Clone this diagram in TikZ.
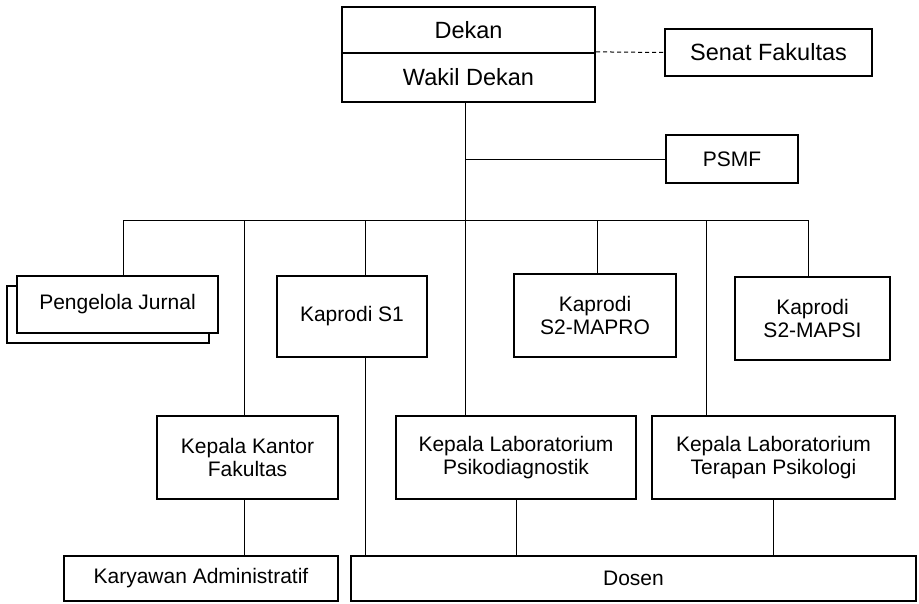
\documentclass[tikz,border=0pt]{standalone}
\usepackage{fontspec}
\setmainfont{Liberation Sans}
\tikzset{
	unitbox/.style={draw, line width=2.3pt, fill=white, align=center, inner sep=0pt, font=\fontsize{21}{23.5}\selectfont},
	bigbox/.style={unitbox, font=\fontsize{23.5}{26}\selectfont},
	link/.style={line width=1pt}
}
\begin{document}
\begin{tikzpicture}[x=1pt, y=-1pt]
	\useasboundingbox (0,0) rectangle (919,603);
	\node[bigbox, minimum width=253pt, minimum height=46pt] (dekan) at (468.5,30) {Dekan};
	\node[bigbox, minimum width=253pt, minimum height=49pt] (wakil) at (468.5,77.5) {Wakil Dekan};
	\node[bigbox, minimum width=207pt, minimum height=47pt] (senat) at (768.5,52.5) {Senat Fakultas};
	\node[unitbox, minimum width=132pt, minimum height=48pt] (psmf) at (732,159) {PSMF};
	\node[unitbox, minimum width=202pt, minimum height=57pt] (jurnalbg) at (108,314.5) {};
	\node[unitbox, minimum width=201pt, minimum height=57pt] (jurnal) at (117.5,304.5) {Pengelola Jurnal};
	\node[unitbox, minimum width=150pt, minimum height=81pt] (sone) at (352,316.5) {Kaprodi S1};
	\node[unitbox, minimum width=162pt, minimum height=83pt] (mapro) at (595,315.5) {Kaprodi\\S2-MAPRO};
	\node[unitbox, minimum width=155pt, minimum height=83pt] (mapsi) at (812.5,318.5) {Kaprodi\\S2-MAPSI};
	\node[unitbox, minimum width=181pt, minimum height=83pt] (kantor) at (247.5,457.5) {Kepala Kantor\\Fakultas};
	\node[unitbox, minimum width=240pt, minimum height=83pt] (psiko) at (516,457.5) {Kepala Laboratorium\\Psikodiagnostik};
	\node[unitbox, minimum width=243pt, minimum height=83pt] (terapan) at (773.5,457.5) {Kepala Laboratorium\\Terapan Psikologi};
	\node[unitbox, minimum width=274pt, minimum height=45pt] (karyawan) at (201,578.5) {Karyawan Administratif};
	\node[unitbox, minimum width=565pt, minimum height=45pt] (dosen) at (633.5,578.5) {Dosen};
	\coordinate (b1) at (123,220);
	\coordinate (b2) at (244,220);
	\coordinate (b3) at (365,220);
	\coordinate (b4) at (465,220);
	\coordinate (b5) at (597,220);
	\coordinate (b6) at (706,220);
	\coordinate (b7) at (808,220);
	\draw[link, dashed, dash pattern=on 4pt off 3pt] (wakil.north east) -- (senat.west);
	\draw[link] (wakil.south -| b4) -- (b4 |- psiko.north);
	\draw[link] (psmf.west) -- (psmf.west -| b4);
	\draw[link] (b1) -- (b7);
	\draw[link] (b1) -- (b1 |- jurnal.north);
	\draw[link] (b2) -- (b2 |- kantor.north);
	\draw[link] (b3) -- (b3 |- sone.north);
	\draw[link] (b5) -- (b5 |- mapro.north);
	\draw[link] (b6) -- (b6 |- terapan.north);
	\draw[link] (b7) -- (b7 |- mapsi.north);
	\draw[link] (b3 |- sone.south) -- (b3 |- dosen.north);
	\draw[link] (b2 |- kantor.south) -- (b2 |- karyawan.north);
	\draw[link] (psiko.south) -- (psiko.south |- dosen.north);
	\draw[link] (terapan.south) -- (terapan.south |- dosen.north);
\end{tikzpicture}
\end{document}
